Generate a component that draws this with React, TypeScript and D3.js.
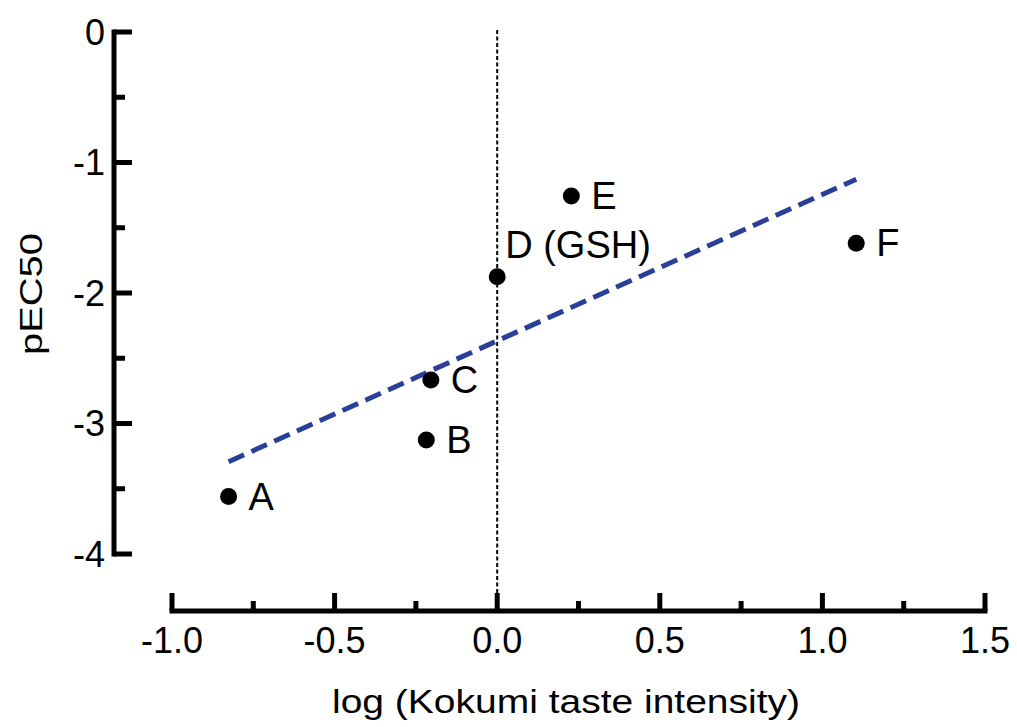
import React from "react";
import * as d3 from "d3";

// compounds, log (Kokumi taste intensity) vs pEC50
const labels = ["A", "B", "C", "D (GSH)", "E", "F"];
const logIntensity = [-0.826, -0.218, -0.204, 0.0, 0.228, 1.104];
const pEC50 = [-3.56, -3.127, -2.667, -1.875, -1.257, -1.619];

const xTicks = [-1.0, -0.5, 0.0, 0.5, 1.0, 1.5];
const xMinor = [-0.75, -0.25, 0.25, 0.75, 1.25];
const yTicks = [0, -1, -2, -3, -4];
const yMinor = [-0.5, -1.5, -2.5, -3.5];

const W = 1017;
const H = 727;
const FONT = "'Liberation Sans', Arial, sans-serif";

export default function App() {
  const x = d3.scaleLinear().domain([-1, 1.5]).range([172, 985]);
  const y = d3.scaleLinear().domain([-4, 0]).range([554, 32]);

  const yAxisX = 114;
  const xAxisY = 611;

  // least squares fit through the points
  const mx = d3.mean(logIntensity) as number;
  const my = d3.mean(pEC50) as number;
  const sxy = d3.sum(logIntensity, (v, i) => (v - mx) * (pEC50[i] - my));
  const sxx = d3.sum(logIntensity, (v) => (v - mx) ** 2);
  const slope = sxy / sxx;
  const icpt = my - slope * mx;
  const [x0, x1] = d3.extent(logIntensity) as [number, number];
  const fit: [number, number][] = [
    [x0, icpt + slope * x0],
    [x1, icpt + slope * x1],
  ];
  const line = d3
    .line<[number, number]>()
    .x((d) => x(d[0]))
    .y((d) => y(d[1]));

  // label offsets
  const labelPos = (i: number) =>
    labels[i].startsWith("D") ? { dx: 8, dy: -19 } : { dx: 20, dy: 13 };

  return (
    <svg
      width={W}
      height={H}
      style={{ position: "absolute", left: 0, top: 0, display: "block", background: "#fff" }}
      fontFamily={FONT}
    >
      {/* y axis */}
      <line x1={yAxisX} x2={yAxisX} y1={y(0) - 2.5} y2={y(-4) + 2.5} stroke="#000" strokeWidth={5} />
      {yTicks.map((t) => (
        <g key={"yt" + t}>
          <line x1={yAxisX} x2={yAxisX + 18} y1={y(t)} y2={y(t)} stroke="#000" strokeWidth={5} />
          <text x={105} y={y(t)} dy="0.36em" textAnchor="end" fontSize={36} fill="#000">
            {t}
          </text>
        </g>
      ))}
      {yMinor.map((t) => (
        <line key={"ym" + t} x1={yAxisX} x2={yAxisX + 11} y1={y(t)} y2={y(t)} stroke="#000" strokeWidth={5} />
      ))}

      {/* x axis */}
      <line x1={x(-1) - 2.5} x2={x(1.5) + 2.5} y1={xAxisY} y2={xAxisY} stroke="#000" strokeWidth={5} />
      {xTicks.map((t) => (
        <g key={"xt" + t}>
          <line x1={x(t)} x2={x(t)} y1={xAxisY} y2={xAxisY - 18} stroke="#000" strokeWidth={5} />
          <text x={x(t)} y={653} textAnchor="middle" fontSize={36} fill="#000">
            {t.toFixed(1)}
          </text>
        </g>
      ))}
      {xMinor.map((t) => (
        <line key={"xm" + t} x1={x(t)} x2={x(t)} y1={xAxisY} y2={xAxisY - 10} stroke="#000" strokeWidth={5} />
      ))}

      {/* zero reference */}
      <line
        x1={x(0)}
        x2={x(0)}
        y1={y(0) - 2}
        y2={xAxisY - 18}
        stroke="#000"
        strokeWidth={2}
        strokeDasharray="4 2.5"
      />

      {/* regression */}
      <path d={line(fit) || ""} fill="none" stroke="#2a3f97" strokeWidth={5} strokeDasharray="17 8" />

      {/* points */}
      {logIntensity.map((v, i) => {
        const p = labelPos(i);
        return (
          <g key={labels[i]}>
            <circle cx={x(v)} cy={y(pEC50[i])} r={8.5} fill="#000" />
            <text x={x(v) + p.dx} y={y(pEC50[i]) + p.dy} fontSize={38} fill="#000">
              {labels[i]}
            </text>
          </g>
        );
      })}

      {/* axis titles */}
      <text
        x={566}
        y={713}
        textAnchor="middle"
        fontSize={34}
        textLength={468}
        lengthAdjust="spacingAndGlyphs"
        fill="#000"
      >
        log (Kokumi taste intensity)
      </text>
      <text
        transform={`translate(42,294) rotate(-90)`}
        textAnchor="middle"
        fontSize={32}
        textLength={122}
        lengthAdjust="spacingAndGlyphs"
        fill="#000"
      >
        pEC50
      </text>
    </svg>
  );
}
